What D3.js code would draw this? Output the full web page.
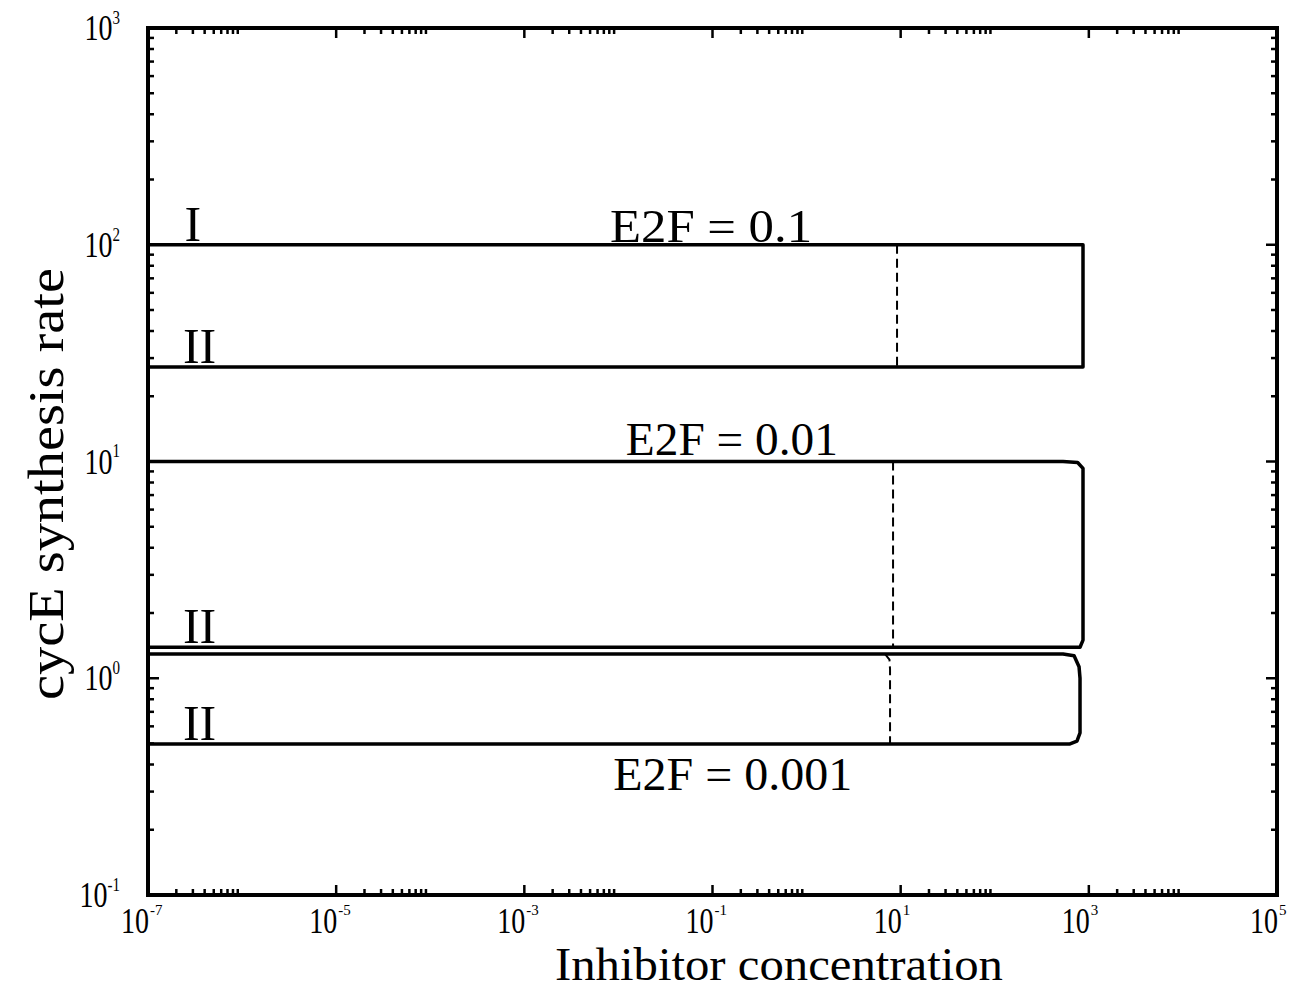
<!DOCTYPE html>
<html>
<head>
<meta charset="utf-8">
<script src="https://cdn.jsdelivr.net/npm/d3@7"></script>
<style>
  html, body { margin: 0; padding: 0; background: #fff; }
  svg { display: block; }
  text { font-family: "Liberation Serif", "Times New Roman", serif; fill: #000; }
</style>
</head>
<body>
<svg id="chart" width="1292" height="989"></svg>
<script>
// axis ranges and tick exponents
const xDomain = [1e-7, 1e5]
const yDomain = [1e-1, 1e3]
const xMajorExp = [-7, -5, -3, -1, 1, 3, 5]
const yMajorExp = [-1, 0, 1, 2, 3]

// branch curves, [inhibitor, cycE synthesis rate]
const boxE2F01 = [[1e-7, 100], [867, 100], [867, 27.3], [1e-7, 27.3]]
const boxE2F001 = [[1e-7, 10], [532, 10], [760, 9.9], [867, 9.3], [867, 1.5], [806, 1.39], [1e-7, 1.39]]
const boxE2F0001 = [[1e-7, 1.294], [532, 1.294], [697, 1.27], [787, 1.13], [806, 1.0],
  [806, 0.56], [748, 0.513], [631, 0.498], [1e-7, 0.498]]
const dashE2F01 = [[9.15, 100], [9.15, 27.3]]
const dashE2F001 = [[8.3, 10], [8.3, 1.39]]
const dashE2F0001 = [[6.8, 1.294], [7.6, 1.22], [7.71, 1.1], [7.71, 0.498]]

// annotations
const e2fLabels = [
  { text: 'E2F = 0.1', x: 8.15e-3, y: 100, len: 202, dy: -3 },
  { text: 'E2F = 0.01', x: 1.2e-2, y: 10, len: 212, dy: -7 },
  { text: 'E2F = 0.001', x: 8.8e-3, y: 0.498, len: 239, dy: 46 },
]
const branchLabels = [
  { text: 'I', x: 2.45e-7, y: 100 },
  { text: 'II', x: 2.35e-7, y: 27.3 },
  { text: 'II', x: 2.35e-7, y: 1.39 },
  { text: 'II', x: 2.35e-7, y: 0.498 },
]

const svg = d3.select('#chart')
const M = { left: 148, right: 1277, top: 28, bottom: 895 }

const x = d3.scaleLog().domain(xDomain).range([M.left, M.right])
const y = d3.scaleLog().domain(yDomain).range([M.bottom, M.top])

const line = d3.line().x(d => x(d[0])).y(d => y(d[1]))

//
// ticks
//
const xMinor = []
xMajorExp.slice(0, -1).forEach(e => {
  for (let m = 2; m <= 9; m++) xMinor.push(m * Math.pow(10, e))
})
const yMinor = []
yMajorExp.slice(0, -1).forEach(e => {
  for (let m = 2; m <= 9; m++) yMinor.push(m * Math.pow(10, e))
})

const ticks = svg.append('g').attr('stroke', '#000').attr('stroke-width', 2.5)

function xTick(v, len) {
  ticks.append('line').attr('x1', x(v)).attr('x2', x(v)).attr('y1', M.bottom).attr('y2', M.bottom - len)
  ticks.append('line').attr('x1', x(v)).attr('x2', x(v)).attr('y1', M.top).attr('y2', M.top + len)
}
function yTick(v, len) {
  ticks.append('line').attr('y1', y(v)).attr('y2', y(v)).attr('x1', M.left).attr('x2', M.left + len)
  ticks.append('line').attr('y1', y(v)).attr('y2', y(v)).attr('x1', M.right).attr('x2', M.right - len)
}
xMajorExp.forEach(e => xTick(Math.pow(10, e), 10))
xMinor.forEach(v => xTick(v, 6))
yMajorExp.forEach(e => yTick(Math.pow(10, e), 11))
yMinor.forEach(v => yTick(v, 6))

// frame
svg.append('rect')
  .attr('x', M.left).attr('y', M.top)
  .attr('width', M.right - M.left).attr('height', M.bottom - M.top)
  .attr('fill', 'none').attr('stroke', '#000').attr('stroke-width', 4)

// tick labels
const labels = svg.append('g')
xMajorExp.forEach(e => {
  const px = x(Math.pow(10, e))
  labels.append('text')
    .attr('transform', `translate(${px + 1},933) scale(1,1.25)`)
    .attr('text-anchor', 'end').attr('font-size', 28).text('10')
  labels.append('text')
    .attr('x', px + 2).attr('y', 915)
    .attr('font-size', 15).text(e)
})
yMajorExp.forEach(e => {
  const py = y(Math.pow(10, e)) + 12
  const t = labels.append('text')
    .attr('transform', `translate(120,${py}) scale(1,1.25)`)
    .attr('text-anchor', 'end').attr('font-size', 28)
  t.append('tspan').text('10')
  t.append('tspan').attr('font-size', 15).attr('dy', -13).text(e)
})

//
// curves
//
const curves = svg.append('g').attr('fill', 'none').attr('stroke', '#000')
;[boxE2F01, boxE2F001, boxE2F0001].forEach(d => {
  curves.append('path').attr('d', line(d)).attr('stroke-width', 3.5).attr('stroke-linejoin', 'round')
})
;[dashE2F01, dashE2F001, dashE2F0001].forEach(d => {
  curves.append('path').attr('d', line(d)).attr('stroke-width', 2).attr('stroke-dasharray', '9,5')
})

// annotations
e2fLabels.forEach(l => {
  svg.append('text')
    .attr('x', x(l.x)).attr('y', y(l.y) + l.dy)
    .attr('font-size', 46)
    .attr('textLength', l.len).attr('lengthAdjust', 'spacingAndGlyphs')
    .text(l.text)
})
branchLabels.forEach(l => {
  svg.append('text')
    .attr('x', x(l.x)).attr('y', y(l.y) - 4)
    .attr('font-size', 50)
    .text(l.text)
})

// axis titles
svg.append('text')
  .attr('x', 555).attr('y', 980)
  .attr('font-size', 46)
  .attr('textLength', 448).attr('lengthAdjust', 'spacingAndGlyphs')
  .text('Inhibitor concentration')
svg.append('text')
  .attr('transform', 'translate(63,484) rotate(-90)')
  .attr('text-anchor', 'middle')
  .attr('font-size', 50)
  .attr('textLength', 432).attr('lengthAdjust', 'spacingAndGlyphs')
  .text('cycE synthesis rate')
</script>
</body>
</html>
